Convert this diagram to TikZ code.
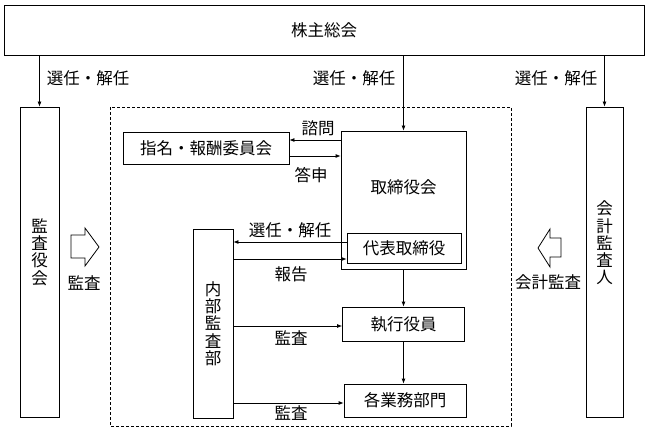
\documentclass[tikz,border=0pt]{standalone}
\usepackage{fontspec}
\setmainfont{Noto Sans CJK JP}
\usetikzlibrary{arrows.meta}

\tikzset{
  boite/.style={draw, rectangle, inner sep=0pt, line width=0.8pt},
  texte/.style={inner sep=0pt, font=\fontsize{16.5}{17.3}\selectfont, align=center},
  fleche/.style={-{Latex[length=5pt,width=4pt]}, line width=0.8pt},
}

\begin{document}
\begin{tikzpicture}[x=1pt, y=-1pt, every node/.append style={texte}]
\useasboundingbox (0,0) rectangle (648,433);
\node[boite, minimum width=640pt, minimum height=50pt] (kabu) at (324,30) {株主総会};
\node[boite, minimum width=39pt, minimum height=310pt] (kansa) at (39.5,262) {};
\node (tkansa) at (39.5,252) {監\\査\\役\\会};
\node[boite, minimum width=37pt, minimum height=310pt] (kaikei) at (604.5,262) {};
\node (tkaikei) at (604.5,243) {会\\計\\監\\査\\人};
\draw[line width=0.8pt, dash pattern=on 3pt off 2pt] (110,107) rectangle (511,426); % cadre
\node[boite, minimum width=166pt, minimum height=32pt] (shimei) at (206,148) {指名・報酬委員会};
\node[boite, minimum width=125pt, minimum height=138pt] (tk) at (403.5,200) {};
\node (ttk) at (403.5,187) {取締役会};
\node[boite, minimum width=114pt, minimum height=30pt] (daihyo) at (404,248) {代表取締役};
\node[boite, minimum width=40pt, minimum height=189pt] (naibu) at (213,323.5) {内\\部\\監\\査\\部};
\node[boite, minimum width=122pt, minimum height=34pt] (shikko) at (403.5,324) {執行役員};
\node[boite, minimum width=122pt, minimum height=33pt] (gyomu) at (405,400.5) {各業務部門};
% fleches creuses
\draw[line width=0.8pt] (71,235) -- (85,235) -- (85,228) -- (99,247) -- (85,266) -- (85,258) -- (71,258) -- cycle;
\draw[line width=0.8pt] (561,238) -- (550,238) -- (550,229) -- (538,248) -- (550,267) -- (550,257) -- (561,257) -- cycle;
\node (lkansa) at (84,283) {監査};
\node (lkaikei) at (548,282) {会計監査};
% depuis le haut
\draw[fleche] (kansa.north |- kabu.south) -- (kansa.north);
\draw[fleche] (tk.north |- kabu.south) -- (tk.north);
\draw[fleche] (kaikei.north |- kabu.south) -- (kaikei.north);
\node (s1) at (88,78) {選任・解任};
\node (s2) at (354,78) {選任・解任};
\node (s3) at (556,78) {選任・解任};
\draw[fleche] (tk.west |- 0,140) -- (shimei.east |- 0,140);
\node (shimon) at (318,128) {諮問};
\draw[fleche] (shimei.east |- 0,156) -- (tk.west |- 0,156);
\node (toshin) at (311,175) {答申};
\draw[fleche] (daihyo.west |- 0,242) -- (naibu.east |- 0,242);
\node (s4) at (290,230) {選任・解任};
\draw[fleche] (naibu.east |- 0,259) -- (daihyo.west |- 0,259);
\node (hokoku) at (291,274) {報告};
\draw[fleche] (naibu.east |- 0,326) -- (shikko.west |- 0,326);
\node (k1) at (291,338) {監査};
\draw[fleche] (naibu.east |- 0,403) -- (gyomu.west |- 0,403);
\node (k2) at (291,413) {監査};
\draw[fleche] (tk.south) -- (tk.south |- shikko.north);
\draw[fleche] (shikko.south) -- (shikko.south |- gyomu.north);
\end{tikzpicture}
\end{document}
